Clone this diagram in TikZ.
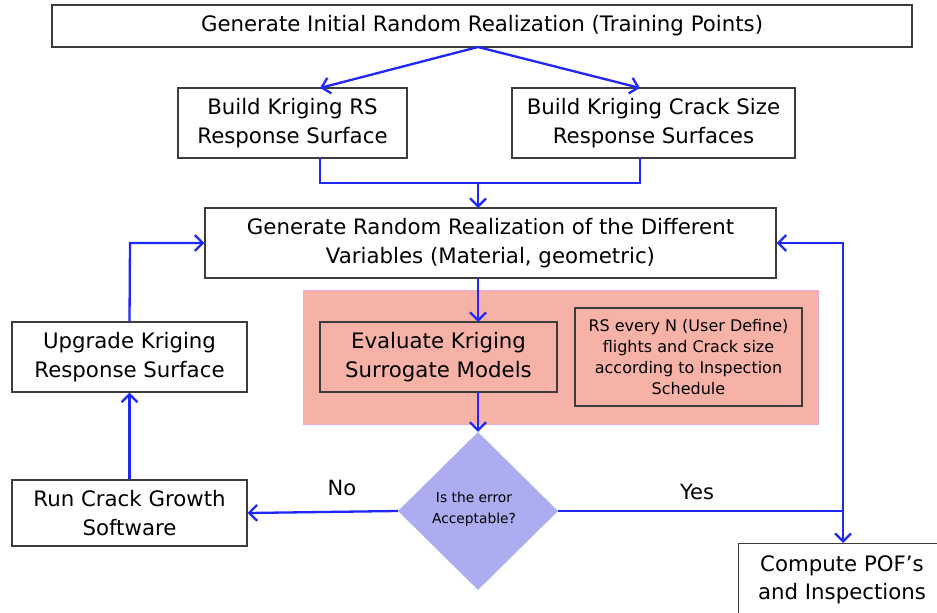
\documentclass[tikz,border=0pt]{standalone}
\usepackage{fontspec}
\setmainfont{DejaVu Sans}
\usetikzlibrary{arrows.meta,shapes.geometric}
\definecolor{flowblue}{RGB}{30,40,250}
\definecolor{boxgray}{RGB}{60,60,60}
\definecolor{pinkfill}{RGB}{247,178,168}
\definecolor{pinkedge}{RGB}{235,170,215}
\definecolor{diafill}{RGB}{172,172,240}
\tikzset{
  procbox/.style={draw=boxgray, line width=1.1pt, fill=white, inner sep=0pt, align=center, font=\fontsize{21.3}{28.5}\selectfont},
  notebox/.style={draw=boxgray, line width=1.1pt, inner sep=0pt, align=center, font=\fontsize{16}{21}\selectfont},
  flow/.style={draw=flowblue, line width=2.3pt, -{Straight Barb[length=8pt,width=16pt,line width=2.3pt]}},
  flowline/.style={draw=flowblue, line width=2.3pt},
  lbl/.style={font=\fontsize{21}{24}\selectfont}
}
\begin{document}
\begin{tikzpicture}[x=1pt,y=-1pt]
\useasboundingbox (0,0) rectangle (937,613);
\fill[white] (0,0) rectangle (937,613);
% pink region
\fill[pinkfill, draw=pinkedge, line width=0.6pt] (303,290) rectangle (818,424);
% boxes
\node[procbox, minimum width=860pt, minimum height=42pt] (top) at (482,26) {Generate Initial Random Realization (Training Points)};
\node[procbox, minimum width=229pt, minimum height=70pt] (rs) at (292.5,123) {Build Kriging RS\\Response Surface};
\node[procbox, minimum width=283pt, minimum height=70pt] (crack) at (653.5,123) {Build Kriging Crack Size\\Response Surfaces};
\node[procbox, minimum width=571pt, minimum height=70pt] (gen) at (490.5,243) {Generate Random Realization of the Different\\Variables (Material, geometric)};
\node[procbox, fill=none, minimum width=237pt, minimum height=70pt] (eval) at (438.5,357) {Evaluate Kriging\\Surrogate Models};
\node[notebox, minimum width=227pt, minimum height=98pt] (note) at (688.5,357) {RS every N (User Define)\\flights and Crack size\\according to Inspection\\Schedule};
\node[diamond, fill=diafill, minimum width=160pt, minimum height=158pt, inner sep=0pt, aspect=1] (dia) at (478,511) {};
\node[font=\fontsize{13.8}{21}\selectfont, align=center] (diatext) at (474,509) {Is the error\\Acceptable?};
\node[procbox, minimum width=235pt, minimum height=70pt] (upg) at (129.5,357) {Upgrade Kriging\\Response Surface};
\node[procbox, minimum width=235pt, minimum height=66pt] (run) at (129.5,513) {Run Crack Growth\\Software};
\node[procbox, minimum width=220pt, minimum height=72pt, anchor=north west] (pof) at (738,543) {};
\node[font=\fontsize{21.3}{28.5}\selectfont, align=center] (poftext) at (842,580) {Compute POF’s\\and Inspections};
% connectors
\coordinate (topc) at (478,47);
\draw[flow] (topc) -- (320,88);
\draw[flow] (topc) -- (640,88);
\coordinate (rsb) at (320,158);
\coordinate (crb) at (640,158);
\coordinate (join) at (478,183);
\draw[flowline] (rsb) -- (320,183) -- (640,183) -- (crb);
\draw[flow] (join) -- (478,208);
\draw[flow] (478,278) -- (478,322);
\draw[flow] (478,392) -- (dia.north);
\draw[flow] (dia.west) -- (run.east);
\node[lbl] (no) at (342,488) {No};
\coordinate (yesc) at (843,511);
\draw[flowline] (dia.east) -- (yesc);
\node[lbl] (yes) at (697,492) {Yes};
\coordinate (rtop) at (843,243);
\draw[flow] (yesc) -- (rtop) -- (gen.east);
\draw[flow] (yesc) -- (843,543);
\draw[flow] (run.north) -- (upg.south);
\coordinate (ltop) at (130,243);
\draw[flow] (upg.north) -- (ltop) -- (gen.west);
\end{tikzpicture}
\end{document}
